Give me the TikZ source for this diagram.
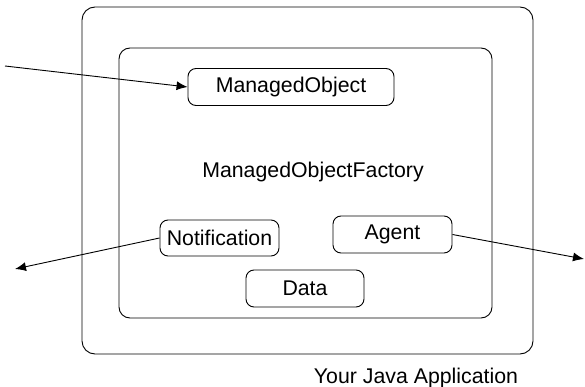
\documentclass[tikz,border=0pt]{standalone}
\usepackage{fontspec}
\setmainfont{Liberation Sans}
\usetikzlibrary{arrows.meta}
\begin{document}
\begin{tikzpicture}[x=1pt,y=-1pt,
  every node/.style={font=\fontsize{21.3}{25}\selectfont},
  frame/.style={draw,line width=0.9pt},
  part/.style={draw,line width=0.9pt,rounded corners=8pt,inner sep=0pt,minimum height=37pt},
  link/.style={line width=0.9pt,-{Latex[length=11pt,width=9pt]}}]
\useasboundingbox (0,0) rectangle (585,387);
\draw[frame,rounded corners=13pt] (82,7) rectangle (533,354);
\draw[frame,rounded corners=11pt] (119,48) rectangle (492,318);
\node[part,minimum width=206pt] (mo) at (291,87) {ManagedObject};
\node[anchor=base] (mof) at (313,178) {ManagedObjectFactory};
\node[part,minimum width=119pt,minimum height=36pt] (notif) at (219.5,238) {Notification};
\node[part,minimum width=119pt] (agent) at (392.5,234.5) {Agent};
\node[part,minimum width=118pt] (data) at (305,288.5) {Data};
\node[anchor=base] (app) at (416,383) {Your Java Application};
\coordinate (inA) at (5,66);
\coordinate (outN) at (15,269);
\coordinate (outA) at (584,259);
\draw[link] (inA) -- (mo.west);
\draw[link] (notif.west) -- (outN);
\draw[link] (agent.east) -- (outA);
\end{tikzpicture}
\end{document}
